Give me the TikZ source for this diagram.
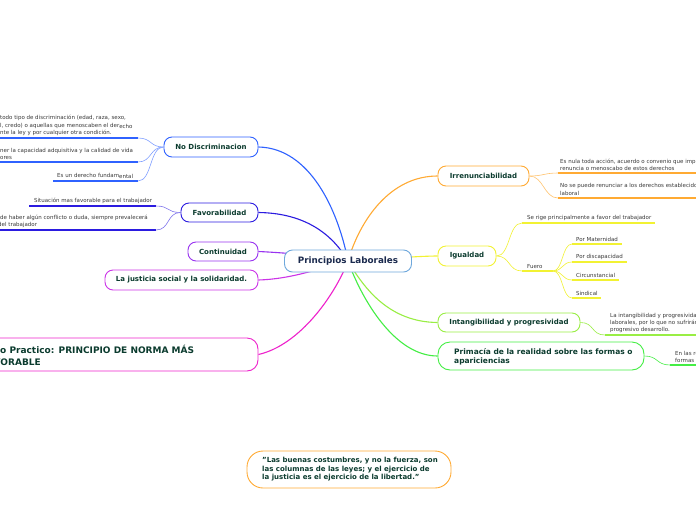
\documentclass[tikz,border=0pt]{standalone}
\usepackage{fontspec}
\setmainfont{DejaVu Sans}
\definecolor{cnd}{HTML}{2F62FF}
\definecolor{cfav}{HTML}{2B1BE0}
\definecolor{ccont}{HTML}{9933F0}
\definecolor{cjust}{HTML}{CC33E8}
\definecolor{ccaso}{HTML}{EE22CC}
\definecolor{cirr}{HTML}{FFAA33}
\definecolor{cig}{HTML}{F2F233}
\definecolor{cint}{HTML}{99EE44}
\definecolor{cprim}{HTML}{44EE44}
\definecolor{chub}{HTML}{6FA8DC}
\definecolor{tgreen}{HTML}{0B3B2E}
\definecolor{tnavy}{HTML}{1B2A4E}
\definecolor{tgray}{HTML}{3A3A3A}
\begin{document}
\begin{tikzpicture}[x=1pt,y=-1pt,
 mainbox/.style={draw, line width=0.9pt, rounded corners=8pt, fill=white, font=\bfseries\fontsize{7}{8.5}\selectfont, text=tgreen, inner sep=0pt, align=center},
 leaf/.style={anchor=south west, inner sep=0pt, align=left, font=\fontsize{5.5}{7}\selectfont, text=tgray},
 link/.style={line width=1.1pt},
 twig/.style={line width=0.6pt},
 uline/.style={line width=1.5pt}]
\clip (0,0) rectangle (696,520);
\fill[white] (0,0) rectangle (696,520);
\coordinate (hub) at (348,261);
% main nodes
\node[mainbox, draw=cnd, minimum width=94pt, minimum height=20pt] (nd) at (211,147) {No Discriminacion};
\node[mainbox, draw=cfav, minimum width=77pt, minimum height=19pt] (fav) at (219.5,212.5) {Favorabilidad};
\node[mainbox, draw=ccont, minimum width=70pt, minimum height=19pt] (cont) at (223,251.5) {Continuidad};
\node[mainbox, draw=cjust, minimum width=153pt, minimum height=20pt] (just) at (181.5,280) {La justicia social y la solidaridad.};
\node[mainbox, draw=ccaso, minimum width=300pt, minimum height=33pt, rounded corners=11pt] (caso) at (108,354.5) {};
\node[anchor=west, align=left, inner sep=0pt, font=\bfseries\fontsize{9}{12}\selectfont, text=tgreen] (casotxt) at (-18,355) {Caso Practico: PRINCIPIO DE NORMA MÁS\\FAVORABLE};
\node[mainbox, draw=cirr, minimum width=91pt, minimum height=20pt] (irr) at (483.5,176) {Irrenunciabilidad};
\node[mainbox, draw=cig, minimum width=58pt, minimum height=20pt] (ig) at (467,256) {Igualdad};
\node[mainbox, draw=cint, minimum width=142pt, minimum height=19pt] (int) at (509,322.5) {Intangibilidad y progresividad};
\node[mainbox, draw=cprim, minimum width=206pt, minimum height=28pt, rounded corners=12pt] (prim) at (541,356) {};
\node[anchor=west, align=left, inner sep=0pt, font=\bfseries\fontsize{7.5}{9.5}\selectfont, text=tgreen] (primtxt) at (454,357) {Primacía de la realidad sobre las formas o\\apariciencias};
\node[mainbox, draw=cirr, minimum width=204pt, minimum height=37pt, rounded corners=16pt] (quote) at (349,469.5) {};
\node[anchor=west, align=left, inner sep=0pt, font=\bfseries\fontsize{7}{8.5}\selectfont, text=tgreen] (quotetxt) at (262,469.5) {"Las buenas costumbres, y no la fuerza, son\\las columnas de las leyes; y el ejercicio de\\la justicia es el ejercicio de la libertad."};
% main links
\draw[link, cnd] (nd.east) .. controls (310,148) and (338,210) .. (hub);
\draw[link, cfav] (fav.east) .. controls (300,213) and (330,230) .. (hub);
\draw[link, ccont] (cont.east) .. controls (290,253) and (320,256) .. (hub);
\draw[link, cjust] (just.east) .. controls (290,279) and (315,270) .. (hub);
\draw[link, ccaso] (caso.east) .. controls (300,345) and (335,295) .. (hub);
\draw[link, cirr] (irr.west) .. controls (390,176) and (360,220) .. (hub);
\draw[link, cig] (ig.west) .. controls (420,256) and (380,259) .. (hub);
\draw[link, cint] (int.west) .. controls (390,322) and (365,290) .. (hub);
\draw[link, cprim] (prim.west) .. controls (395,356) and (362,300) .. (hub);
\node[mainbox, draw=chub, minimum width=127pt, minimum height=22pt, font=\bfseries\fontsize{8.8}{10}\selectfont, text=tnavy] (hubnode) at (hub) {Principios Laborales};
% No Discriminacion leaves
\coordinate (nd1a) at (-5,138); \coordinate (nd1b) at (138,138);
\coordinate (nd2a) at (-5,162); \coordinate (nd2b) at (138,162);
\coordinate (nd3a) at (53,181); \coordinate (nd3b) at (138,181);
\node[leaf, font=\fontsize{5.5}{7.5}\selectfont] (nd1t) at (0,136) {todo tipo de discriminación (edad, raza, sexo,\\l, credo) o aquellas que menoscaben el der\raisebox{-1pt}{echo}\\nte la ley y por cualquier otra condición.};
\node[leaf] (nd2t) at (0,160) {ner la capacidad adquisitiva y la calidad de vida\\ores};
\node[leaf] (nd3t) at (57,179) {Es un derecho fundam\raisebox{-1pt}{ental}};
\foreach \a/\b in {nd1a/nd1b,nd2a/nd2b,nd3a/nd3b}{\draw[uline, cnd] (\a) -- (\b); \draw[twig, cnd!60] (nd.west) .. controls +(-14,0) and +(14,0) .. (\b);}
% Favorabilidad leaves
\coordinate (fv1a) at (29,206); \coordinate (fv1b) at (156,206);
\coordinate (fv2a) at (-5,230); \coordinate (fv2b) at (156,230);
\node[leaf] (fv1t) at (34,204) {Situación mas favorable para el trabajador};
\node[leaf] (fv2t) at (0,228) {de haber algún conflicto o duda, siempre prevalecerá\\\hspace*{-2pt}del trabajador};
\foreach \a/\b in {fv1a/fv1b,fv2a/fv2b}{\draw[uline, cfav] (\a) -- (\b); \draw[twig, cfav!60] (fav.west) .. controls +(-14,0) and +(14,0) .. (\b);}
% Irrenunciabilidad leaves
\coordinate (ir1a) at (558,173); \coordinate (ir1b) at (700,173);
\coordinate (ir2a) at (558,198); \coordinate (ir2b) at (700,198);
\node[leaf] (ir1t) at (560,171) {Es nula toda acción, acuerdo o convenio que implique\\renuncia o menoscabo de estos derechos};
\node[leaf, font=\fontsize{5.5}{8}\selectfont] (ir2t) at (560,196) {No se puede renunciar a los derechos establecidos\\laboral};
\foreach \a/\b in {ir1a/ir1b,ir2a/ir2b}{\draw[uline, cirr] (\a) -- (\b); \draw[twig, cirr!70] (irr.east) .. controls +(14,0) and +(-14,0) .. (\a);}
% Igualdad leaves
\coordinate (ig1a) at (522,223); \coordinate (ig1b) at (655,223);
\coordinate (fua) at (522,271); \coordinate (fub) at (553,271);
\node[leaf] (ig1t) at (527,221) {Se rige principalmente a favor del trabajador};
\node[leaf] (fut) at (527,269) {Fuero};
\foreach \a/\b in {ig1a/ig1b,fua/fub}{\draw[uline, cig] (\a) -- (\b); \draw[twig, cig] (ig.east) .. controls +(14,0) and +(-14,0) .. (\a);}
\coordinate (f1a) at (572,244); \coordinate (f1b) at (622,244);
\coordinate (f2a) at (572,262); \coordinate (f2b) at (627,262);
\coordinate (f3a) at (572,280); \coordinate (f3b) at (619,280);
\coordinate (f4a) at (572,298); \coordinate (f4b) at (601,298);
\node[leaf] (f1t) at (576,242) {Por Maternidad};
\node[leaf] (f2t) at (576,260) {Por discapacidad};
\node[leaf] (f3t) at (576,278) {Circunstancial};
\node[leaf] (f4t) at (576,296) {Sindical};
\foreach \a/\b in {f1a/f1b,f2a/f2b,f3a/f3b,f4a/f4b}{\draw[uline, cig] (\a) -- (\b); \draw[twig, cig] (fub) .. controls +(10,0) and +(-10,0) .. (\a);}
% Intangibilidad leaf
\coordinate (in1a) at (605,335); \coordinate (in1b) at (700,335);
\node[leaf] (in1t) at (610,333) {La intangibilidad y progresividad\\laborales, por lo que no sufrirán\\progresivo desarrollo.};
\draw[uline, cint] (in1a) -- (in1b);
\draw[twig, cint] (int.east) .. controls +(14,0) and +(-14,0) .. (in1a);
% Primacia leaf
\coordinate (pr1a) at (670,365); \coordinate (pr1b) at (700,365);
\node[leaf] (pr1t) at (675,363) {En las relaciones\\formas};
\draw[uline, cprim] (pr1a) -- (pr1b);
\draw[twig, cprim] (prim.east) .. controls +(14,0) and +(-14,0) .. (pr1a);
\end{tikzpicture}
\end{document}
